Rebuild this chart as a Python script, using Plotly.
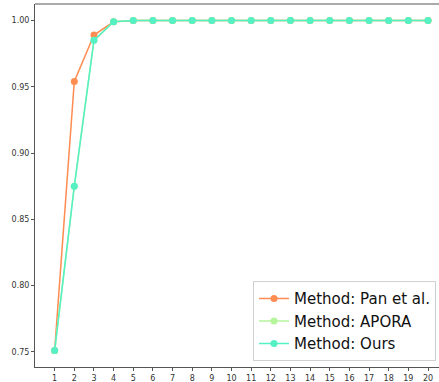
import plotly.graph_objects as go

epochs = list(range(1, 21))
pan = [0.751, 0.954, 0.989, 0.999] + [1.0] * 16
apora = [0.751, 0.875, 0.985, 0.999] + [1.0] * 16
ours = [0.751, 0.875, 0.985, 0.999] + [1.0] * 16
names = ["Method: Pan et al.", "Method: APORA", "Method: Ours"]
colors = ["#ff8c50", "#b6f59c", "#55f0c4"]

fig = go.Figure()
for name, vals, c in zip(names, [pan, apora, ours], colors):
    fig.add_trace(go.Scatter(
        x=epochs, y=vals, name=name, mode="lines+markers",
        line=dict(color=c, width=1.5),
        marker=dict(color=c, size=7),
    ))

fig.update_layout(
    width=439, height=382,
    margin=dict(l=35, r=0, t=4, b=15, autoexpand=False),
    plot_bgcolor="white", paper_bgcolor="white",
    font=dict(family="DejaVu Sans", size=9, color="#333"),
    showlegend=True,
    legend=dict(
        x=(253 - 35) / 404, y=0.016, xanchor="left", yanchor="bottom",
        font=dict(size=15, color="#111"),
        bgcolor="rgba(255,255,255,0.9)", bordercolor="#d0d0d0", borderwidth=1,
        itemwidth=30, tracegroupgap=0,
    ),
    xaxis=dict(
        range=[0, 20.56], tickmode="array", tickvals=epochs,
        ticktext=[str(e) for e in epochs],
        showgrid=False, zeroline=False,
        showline=True, linecolor="#555", linewidth=1, mirror=False,
        ticks="outside", ticklen=3, tickcolor="#555",
        tickfont=dict(size=8),
    ),
    yaxis=dict(
        range=[0.7386, 1.0124], tickmode="array",
        tickvals=[0.75, 0.80, 0.85, 0.90, 0.95, 1.00],
        ticktext=["0.75", "0.80", "0.85", "0.90", "0.95", "1.00"],
        showgrid=False, zeroline=False,
        showline=True, linecolor="#555", linewidth=1,
        ticks="outside", ticklen=3, tickcolor="#555",
        tickfont=dict(size=8),
    ),
)
fig.add_shape(type="line", xref="paper", yref="paper", x0=0, x1=1, y0=1, y1=1,
              line=dict(color="#aaaaaa", width=2))

fig.write_html("out.html")
